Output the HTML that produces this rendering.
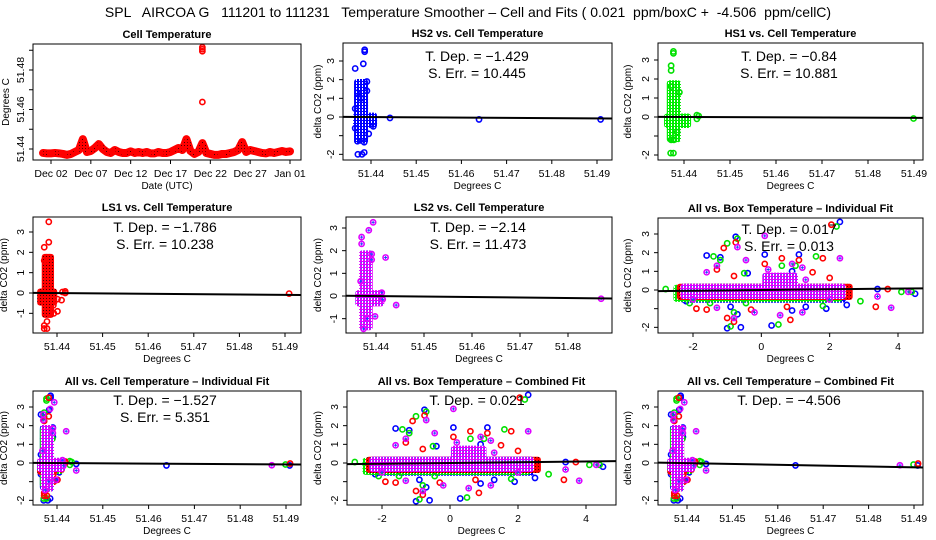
<!DOCTYPE html>
<html><head><meta charset="utf-8"><style>
html,body{margin:0;padding:0;background:#fff}
svg{display:block;font-family:"Liberation Sans",sans-serif}
</style></head><body>
<svg id="c" width="936" height="540" viewBox="0 0 936 540" xmlns="http://www.w3.org/2000/svg">
<defs>
<pattern id="p-red" width="3" height="3" patternUnits="userSpaceOnUse"><rect width="3" height="3" fill="#f00"/><rect x="1" y="1" width="1" height="1" fill="#400"/></pattern>
<pattern id="p-blue" width="3" height="3" patternUnits="userSpaceOnUse"><rect width="3" height="3" fill="#fff"/><rect width="2" height="3" fill="#00f"/><rect y="0" width="3" height="1" fill="#00f"/></pattern>
<pattern id="p-green" width="3" height="3" patternUnits="userSpaceOnUse"><rect width="3" height="3" fill="#fff"/><rect width="2" height="3" fill="#0e0"/><rect y="0" width="3" height="1" fill="#0e0"/></pattern>
<pattern id="p-mag" width="3" height="3" patternUnits="userSpaceOnUse"><rect width="3" height="3" fill="#fff"/><rect width="2" height="3" fill="#e000ff"/><rect y="0" width="3" height="1" fill="#e000ff"/><rect x="1" y="1" width="1" height="1" fill="#4060ff"/></pattern>
</defs>
<text x="468" y="17" font-size="14" text-anchor="middle" xml:space="preserve">SPL   AIRCOA G   111201 to 111231   Temperature Smoother – Cell and Fits ( 0.021  ppm/boxC +  -4.506  ppm/cellC)</text>
</svg>
<script>
// ---- Data: cell temperature time series (days since Dec 01, temperature) ----
const cellT = [0,0.5,1,1.5,2,2.5,3,3.5,4,4.5,5,5.5,6,6.5,7,7.5,8,8.5,9,9.5,10,10.5,11,11.5,12,12.5,13,13.5,14,14.5,15,15.5,16,16.5,17,17.5,18,18.5,19,19.5,20,20.5,21,21.5,22,22.5,23,23.5,24,24.5,25,25.5,26,26.5,27,27.5,28,28.5,29,29.5,30,30.5,31];
const cellTemp = [51.438,51.4378,51.4378,51.438,51.4378,51.4375,51.437,51.4375,51.4385,51.4395,51.445,51.4385,51.439,51.4405,51.4425,51.440,51.4385,51.438,51.4395,51.4385,51.438,51.438,51.4388,51.438,51.4385,51.438,51.4385,51.4378,51.4378,51.4385,51.438,51.438,51.4385,51.4395,51.4405,51.4395,51.445,51.439,51.4375,51.4385,51.443,51.438,51.4375,51.437,51.437,51.4375,51.4375,51.438,51.4385,51.4395,51.4435,51.4385,51.4395,51.439,51.4385,51.438,51.4378,51.4385,51.438,51.4385,51.439,51.4385,51.4388];
const cellOutT = [20,20,20,20];
const cellOutTemp = [51.4915,51.4905,51.4895,51.4638];
const dayTicks = [1,6,11,16,21,26,31];
const dayLabels = ["Dec 02","Dec 07","Dec 12","Dec 17","Dec 22","Dec 27","Jan 01"];

// ---- Sensor scatter data vs cell temperature ----
const hs2X = [51.4386,51.4386,51.4383,51.4365,51.4442,51.4639,51.4908,51.438,51.4385,51.4371,51.4365,51.4365,51.4391,51.4391,51.437,51.437,51.4385,51.4395,51.4405,51.4378];
const hs2Y = [3.6,3.5,2.85,2.6,-0.05,-0.13,-0.13,-2.0,-1.9,-2.0,0.45,-0.6,1.9,1.4,1.3,-1.3,-1.35,-0.9,-0.5,1.0];
const hs2Col = [51.4368,51.4388,-1.3,1.9];
const hs2Row = [51.4366,51.4408,-0.45,0.1];
const hs1X = [51.4377,51.4377,51.4372,51.4372,51.4372,51.439,51.4428,51.4432,51.4428,51.4371,51.4377,51.4372,51.4378,51.4385,51.4899];
const hs1Y = [3.45,3.35,2.7,2.45,1.6,1.3,0.1,0.05,-0.1,-1.9,-1.9,-1.2,-1.2,-0.8,-0.08];
const hs1Col = [51.4368,51.4388,-1.2,1.8];
const hs1Row = [51.4362,51.441,-0.45,0.05];
const ls1X = [51.4382,51.4382,51.4372,51.4372,51.4378,51.4372,51.4378,51.4372,51.4385,51.4393,51.4401,51.441,51.4401,51.4412,51.4418,51.4418,51.4909,51.4392];
const ls1Y = [3.5,2.5,2.25,1.6,-1.4,-1.6,-1.75,-1.75,-1.05,-1.0,-0.9,-0.35,-0.3,0.05,0.0,0.08,-0.03,-0.6];
const ls1Col = [51.4372,51.4388,-1.1,1.8];
const ls1Row = [51.4362,51.4395,-0.5,0.1];
const ls2X = [51.4394,51.4385,51.437,51.437,51.4368,51.442,51.4391,51.4391,51.4442,51.4398,51.4374,51.4382,51.4412,51.4414,51.4869];
const ls2Y = [3.25,2.9,2.6,2.3,0.65,1.7,1.85,1.6,-0.4,-0.9,-1.45,-1.0,0.15,-0.15,-0.12];
const ls2Col = [51.437,51.4388,-1.4,1.9];
const ls2Row = [51.4362,51.4412,-0.35,0.15];

// ---- Sensor scatter data vs box temperature ----
const hs2BX = [2.3,-0.75,-1.6,-1.2,0.1,1.1,-0.4,0.9,-2.2,-1.0,-0.6,0.3,-0.9,1.3,2.5,4.5,3.4,-0.7,1.9,0.9];
const hs2BY = [3.65,2.85,1.85,1.75,1.9,1.9,0.9,1.0,-0.6,-2.05,-2.0,-1.9,-0.9,-0.9,-0.8,-0.2,0.05,-1.3,-1.0,-1.1];
const hs1BX = [2.2,-0.7,-1.0,-1.4,-1.2,1.6,0.6,1.0,-0.5,-2.8,-2.1,-1.5,-0.45,1.8,2.9,4.1,0.5,-0.9,-0.8,4.4];
const hs1BY = [3.4,2.75,2.5,1.8,1.6,1.8,1.3,1.3,0.9,0.05,-0.7,-0.7,-0.7,-0.85,-0.6,-0.1,-1.85,-1.95,-1.2,-0.1];
const ls1BX = [2.05,-1.1,-0.75,-1.3,0.1,0.6,1.1,1.8,2.0,-1.9,-1.6,-0.3,0.75,0.85,3.35,3.7,-0.8,-1.0,1.5,-0.8];
const ls1BY = [3.5,2.25,2.55,1.1,1.4,1.7,1.6,1.7,0.65,-1.0,-1.05,-1.05,-0.9,-1.6,-0.9,0.05,-1.7,-1.5,0.95,0.75];
const ls2BX = [0.1,2.3,-0.7,-0.45,-1.3,0.2,1.2,1.3,-1.6,-2.0,-1.3,-0.2,0.55,1.2,2.0,3.8,4.3,3.4,-0.8,0.9];
const ls2BY = [2.9,1.7,2.3,1.6,1.3,1.1,1.2,0.55,0.95,-0.5,-0.95,-1.2,-1.35,-1.2,-0.5,-0.95,-0.1,-0.35,-1.5,1.4];
const hs2BBand = [-2.3,2.4,-0.55,0.2];
const hs1BBand = [-2.5,2.3,-0.5,0.15];
const ls1BBand = [-2.4,2.6,-0.4,0.2];
const ls2BBand = [-2.3,2.4,-0.35,0.2];
const ls2BBlob = [0.1,1.0,0.2,0.8];

// ---- Fit slopes (ppm per degree) ----
const fitSlopes = [-1.429,-0.84,-1.786,-2.14,0.019,-1.527,0.021,-4.506];
const cellRef = 51.4385;

const S='http://www.w3.org/2000/svg';
const svg=document.getElementById('c');
function mk(tag,attrs,parent){const e=document.createElementNS(S,tag);for(const k in attrs)e.setAttribute(k,attrs[k]);(parent||svg).appendChild(e);return e;}
function scale(v1,p1,v2,p2){return v=>p1+(v-v1)*(p2-p1)/(v2-v1);}
function inv(v1,p1,v2,p2){return p=>v1+(p-p1)*(v2-v1)/(p2-p1);}

const colors={blue:'#0000ff',green:'#00e000',red:'#ff0000',mag:'#e000ff'};

function panel(cfg){
  const g=mk('g',{});
  
  
  const [l,t,r,b]=cfg.box;
  const X=scale(...cfg.xm), Y=scale(...cfg.ym);
  const Xi=inv(...cfg.xm);
  cfg.X=X;cfg.Y=Y;cfg.Xi=Xi;cfg.g=g;
  const cp='cp'+cfg.name;
  const clip=mk('clipPath',{id:cp},g);mk('rect',{x:l,y:t,width:r-l,height:b-t},clip);
  cfg.plot=mk('g',{'clip-path':'url(#'+cp+')'},g);
  const tt=mk('text',{x:(l+r)/2,y:t-6,'font-size':11,'font-weight':'bold','text-anchor':'middle'},g);tt.textContent=cfg.title;
  
  
  cfg.xt.forEach((v,i)=>{const x=X(v);mk('line',{x1:x,x2:x,y1:b,y2:b+4,stroke:'#000'},g);
    const tx=mk('text',{x:x,y:b+17,'font-size':10.5,'text-anchor':'middle'},g);tx.textContent=cfg.xl[i];
    
    });
  mk('line',{x1:X(cfg.xt[0]),x2:X(cfg.xt[cfg.xt.length-1]),y1:b,y2:b,stroke:'#000'},g);
  cfg.yt.forEach((v,i)=>{const y=Y(v);mk('line',{x1:l-4,x2:l,y1:y,y2:y,stroke:'#000'},g);
    if(cfg.yl[i]!==''){const tx=mk('text',{x:l-9,y:y,'font-size':10.5,'text-anchor':'middle',transform:`rotate(-90 ${l-9} ${y})`},g);tx.textContent=cfg.yl[i];
    
    }});
  const xa=mk('text',{x:(l+r)/2,y:b+29,'font-size':10,'text-anchor':'middle'},g);xa.textContent=cfg.xlab;
  
  
  const yx=cfg.ylx, yy=(t+b)/2;
  const ya=mk('text',{x:yx,y:yy,'font-size':10,'text-anchor':'middle',transform:`rotate(-90 ${yx} ${yy})`},g);ya.textContent=cfg.ylab;
  
  
  return cfg;
}
function finish(cfg){const [l,t,r,b]=cfg.box;const bx=mk('rect',{x:l,y:t,width:r-l,height:b-t,fill:'none',stroke:'#000'},cfg.g);
  
  
  if(cfg.txt){cfg.txt.forEach((s,i)=>{const tx=mk('text',{x:cfg.tcx,y:cfg.ty+i*17,'font-size':14,'text-anchor':'middle','xml:space':'preserve'},cfg.g);tx.textContent=s;
    
    });}}
function pt(cfg,x,y,col,plus){const c=mk('circle',{cx:cfg.X(x),cy:cfg.Y(y),r:2.6,fill:'none',stroke:colors[col],'stroke-width':1.6},cfg.plot);
  
  
  if(plus){const X=cfg.X(x),Y=cfg.Y(y);mk('path',{d:`M${X-1.5} ${Y}H${X+1.5}M${X} ${Y-1.5}V${Y+1.5}`,stroke:'#2040ff','stroke-width':1},cfg.plot);}}
function cluster(cfg,a,col,pat){const x1=cfg.X(a[0])-2.5,x2=cfg.X(a[1])+2.5,y1=cfg.Y(a[3])-2.5,y2=cfg.Y(a[2])+2.5;
  const rr=mk('rect',{x:x1,y:y1,width:x2-x1,height:y2-y1,fill:'url(#'+pat+')',rx:3},cfg.plot);
  
  }
function series(cfg,xs,ys,col,pat,bands,plus){bands.forEach(bd=>cluster(cfg,bd,col,pat));xs.forEach((x,i)=>pt(cfg,x,ys[i],col,plus));}
function fit(cfg,slope,ref){const [l,,r]=cfg.box;const xa=cfg.Xi(l),xb=cfg.Xi(r);
  const ln=mk('line',{x1:l,x2:r,y1:cfg.Y(slope*(xa-ref)),y2:cfg.Y(slope*(xb-ref)),stroke:'#000','stroke-width':2},cfg.plot);
  
  }

const cellTicks=[51.44,51.45,51.46,51.47,51.48,51.49];
const cellLabs=cellTicks.map(v=>v.toFixed(2));
const dTicks=[-2,-1,0,1,2,3];
const dLabs=['-2','','0','1','2','3'];
const dTicks2=[-1,0,1,2,3];
const dLabs2=['-1','0','1','2','3'];
const bTicks=[-2,0,2,4];
const bLabs=['-2','0','2','4'];
const yl='delta CO2 (ppm)';

// Panel 1: time series
const p1=panel({name:'cell-temperature-panel',box:[33,44,301,160],xm:[1,51,31,290],ym:[51.44,149,51.48,70],
  xt:dayTicks,xl:dayLabels,yt:[51.44,51.45,51.46,51.47,51.48,51.49],yl:['51.44','','51.46','','51.48',''],
  title:'Cell Temperature',xlab:'Date (UTC)',ylab:'Degrees C',ylx:9});
const bandPts=cellT.map((t,i)=>p1.X(t)+','+p1.Y(cellTemp[i])).join(' ');
const band=mk('polyline',{points:bandPts,fill:'none',stroke:'#f00','stroke-width':8,'stroke-linejoin':'round','stroke-linecap':'round'},p1.plot);


const band2=mk('polyline',{points:bandPts,fill:'none',stroke:'url(#p-red)','stroke-width':6,'stroke-linejoin':'round'},p1.plot);


cellT.forEach((t,i)=>pt(p1,t,cellTemp[i],'red'));
cellOutT.forEach((t,i)=>pt(p1,t,cellOutTemp[i],'red'));
finish(p1);

const p2=panel({name:'hs2-panel',box:[343,43,612,160],xm:[51.44,371,51.49,597],ym:[0,117,3,61],xt:cellTicks,xl:cellLabs,yt:dTicks,yl:dLabs,
  title:'HS2 vs. Cell Temperature',xlab:'Degrees C',ylab:yl,ylx:321,txt:['T. Dep. =  −1.429','S. Err. =  10.445'],tcx:477,ty:61});
series(p2,hs2X,hs2Y,'blue','p-blue',[hs2Col,hs2Row]);fit(p2,fitSlopes[0],cellRef);finish(p2);

const p3=panel({name:'hs1-panel',box:[658,43,923,160],xm:[51.44,684,51.49,914],ym:[0,117,3,60],xt:cellTicks,xl:cellLabs,yt:dTicks,yl:dLabs,
  title:'HS1 vs. Cell Temperature',xlab:'Degrees C',ylab:yl,ylx:631,txt:['T. Dep. =  −0.84','S. Err. =  10.881'],tcx:789,ty:61});
series(p3,hs1X,hs1Y,'green','p-green',[hs1Col,hs1Row]);fit(p3,fitSlopes[1],cellRef);finish(p3);

const p4=panel({name:'ls1-panel',box:[33,217,301,333],xm:[51.44,57,51.49,285],ym:[0,293,3,232],xt:cellTicks,xl:cellLabs,yt:dTicks2,yl:dLabs2,
  title:'LS1 vs. Cell Temperature',xlab:'Degrees C',ylab:yl,ylx:7,txt:['T. Dep. =  −1.786','S. Err. =  10.238'],tcx:165,ty:232});
series(p4,ls1X,ls1Y,'red','p-red',[ls1Col,ls1Row]);fit(p4,fitSlopes[2],cellRef);finish(p4);

const p5=panel({name:'ls2-panel',box:[346,217,612,333],xm:[51.44,376,51.48,568],ym:[0,296,3,228],xt:[51.44,51.45,51.46,51.47,51.48],xl:['51.44','51.45','51.46','51.47','51.48'],yt:dTicks2,yl:dLabs2,
  title:'LS2 vs. Cell Temperature',xlab:'Degrees C',ylab:yl,ylx:321,txt:['T. Dep. =  −2.14','S. Err. =  11.473'],tcx:478,ty:232});
series(p5,ls2X,ls2Y,'mag','p-mag',[ls2Col,ls2Row],true);fit(p5,fitSlopes[3],cellRef);finish(p5);

const p6=panel({name:'all-box-individual-panel',box:[658,218,923,333],xm:[-2,693,4,898],ym:[0,290,3,234],xt:bTicks,xl:bLabs,yt:dTicks,yl:dLabs,
  title:'All vs. Box Temperature – Individual Fit',xlab:'Degrees C',ylab:yl,ylx:631,txt:['T. Dep. =  0.017','S. Err. =  0.013'],tcx:789,ty:234});
series(p6,hs2BX,hs2BY,'blue','p-blue',[hs2BBand]);series(p6,hs1BX,hs1BY,'green','p-green',[hs1BBand]);
series(p6,ls1BX,ls1BY,'red','p-red',[ls1BBand]);series(p6,ls2BX,ls2BY,'mag','p-mag',[ls2BBand,ls2BBlob],true);
fit(p6,fitSlopes[4],0);finish(p6);

const p7=panel({name:'all-cell-individual-panel',box:[33,391,301,505],xm:[51.44,57,51.49,286],ym:[0,463,3,407],xt:cellTicks,xl:cellLabs,yt:dTicks,yl:dLabs,
  title:'All vs. Cell Temperature – Individual Fit',xlab:'Degrees C',ylab:yl,ylx:7,txt:['T. Dep. =  −1.527','S. Err. =  5.351'],tcx:165,ty:405});
const p9=panel({name:'all-cell-combined-panel',box:[658,391,923,505],xm:[51.44,687,51.49,914],ym:[0,463,3,407],xt:cellTicks,xl:cellLabs,yt:dTicks,yl:dLabs,
  title:'All vs. Cell Temperature – Combined Fit',xlab:'Degrees C',ylab:yl,ylx:631,txt:['T. Dep. =  −4.506'],tcx:789,ty:405});
[p7,p9].forEach(p=>{series(p,hs2X,hs2Y,'blue','p-blue',[hs2Col,hs2Row]);series(p,hs1X,hs1Y,'green','p-green',[hs1Col,hs1Row]);
  series(p,ls1X,ls1Y,'red','p-red',[ls1Col,ls1Row]);series(p,ls2X,ls2Y,'mag','p-mag',[ls2Col,ls2Row],true);});
fit(p7,fitSlopes[5],cellRef);finish(p7);fit(p9,fitSlopes[7],cellRef);finish(p9);

const p8=panel({name:'all-box-combined-panel',box:[347,391,616,505],xm:[-2,382,4,586],ym:[0,463,3,407],xt:bTicks,xl:bLabs,yt:dTicks,yl:dLabs,
  title:'All vs. Box Temperature – Combined Fit',xlab:'Degrees C',ylab:yl,ylx:321,txt:['T. Dep. =  0.021'],tcx:477,ty:405});
series(p8,hs2BX,hs2BY,'blue','p-blue',[hs2BBand]);series(p8,hs1BX,hs1BY,'green','p-green',[hs1BBand]);
series(p8,ls1BX,ls1BY,'red','p-red',[ls1BBand]);series(p8,ls2BX,ls2BY,'mag','p-mag',[ls2BBand,ls2BBlob],true);
fit(p8,fitSlopes[6],0);finish(p8);
</script>
</body></html>
